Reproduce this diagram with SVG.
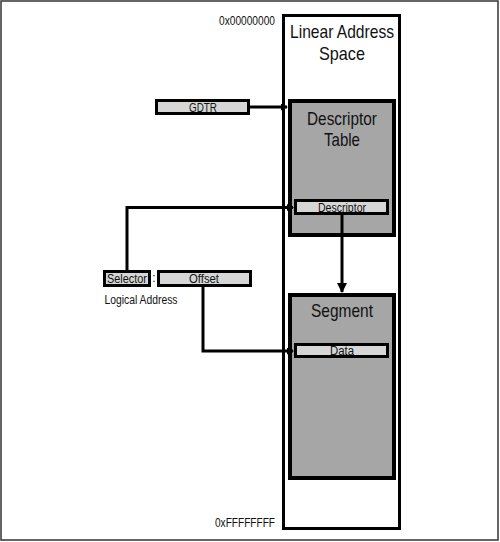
<svg xmlns="http://www.w3.org/2000/svg" width="500" height="542" viewBox="0 0 500 542">
<style>
.t{font-family:"Liberation Sans",Arial,sans-serif;fill:#111;text-anchor:middle}
.s{font-size:12px}
.b{font-size:18.5px}
.dark{fill:#a6a6a6;stroke:#000;stroke-width:4}
.light{fill:#d6d6d6;stroke:#000;stroke-width:3}
.conn{fill:none;stroke:#000;stroke-width:3}
</style>
<defs>
<marker id="ah" markerWidth="7" markerHeight="7" refX="6" refY="3.5" orient="auto" markerUnits="userSpaceOnUse">
<path d="M0,0 L7,3.5 L0,7 Z" fill="#000"/>
</marker>
<marker id="ahd" markerWidth="10" markerHeight="10" refX="9" refY="5" orient="auto" markerUnits="userSpaceOnUse">
<path d="M0,0 L10,5 L0,10 Z" fill="#000"/>
</marker>
</defs>
<rect x="1" y="1" width="497" height="539" fill="#fff" stroke="#333" stroke-width="1.5"/>
<g id="linear-space">
<rect x="283.5" y="15.5" width="116" height="513" fill="#fff" stroke="#000" stroke-width="3"/>
<text class="t b" x="342" y="38" textLength="104" lengthAdjust="spacingAndGlyphs">Linear Address</text>
<text class="t b" x="342" y="60" textLength="46" lengthAdjust="spacingAndGlyphs">Space</text>
</g>
<g id="addr-labels">
<text class="t s" x="247" y="25" textLength="56" lengthAdjust="spacingAndGlyphs">0x00000000</text>
<text class="t s" x="245" y="527" textLength="60" lengthAdjust="spacingAndGlyphs">0xFFFFFFFF</text>
</g>
<g id="descriptor-table">
<rect class="dark" x="290" y="101" width="104" height="134"/>
<text class="t b" x="342" y="125" textLength="70" lengthAdjust="spacingAndGlyphs">Descriptor</text>
<text class="t b" x="342" y="146" textLength="36" lengthAdjust="spacingAndGlyphs">Table</text>
</g>
<g id="descriptor">
<rect class="light" x="295.5" y="200.5" width="92" height="13"/>
<text class="t s" x="342" y="211.5" textLength="48" lengthAdjust="spacingAndGlyphs">Descriptor</text>
</g>
<g id="segment">
<rect class="dark" x="290" y="295" width="104" height="183"/>
<text class="t b" x="342" y="317" textLength="62" lengthAdjust="spacingAndGlyphs">Segment</text>
</g>
<g id="data">
<rect class="light" x="295.5" y="344.5" width="92" height="12"/>
<text class="t s" x="342" y="355" textLength="24" lengthAdjust="spacingAndGlyphs">Data</text>
</g>
<g id="gdtr">
<rect class="light" x="156.5" y="100.5" width="92" height="13"/>
<text class="t s" x="203" y="111.5" textLength="28" lengthAdjust="spacingAndGlyphs">GDTR</text>
</g>
<g id="selector">
<rect class="light" x="104.5" y="271.5" width="45" height="14"/>
<text class="t s" x="127" y="282.5" textLength="40" lengthAdjust="spacingAndGlyphs">Selector</text>
</g>
<g id="offset">
<rect class="light" x="158.5" y="271.5" width="92" height="14"/>
<text class="t s" x="204" y="282.5" textLength="30" lengthAdjust="spacingAndGlyphs">Offset</text>
</g>
<g id="logical-address">
<text class="t s" x="154" y="282">:</text>
<text class="t s" x="141" y="303.5" textLength="73" lengthAdjust="spacingAndGlyphs">Logical Address</text>
</g>
<g id="connectors">
<path class="conn" d="M250,107 H287" marker-end="url(#ah)"/>
<path class="conn" d="M127,271 V207.5 H293" marker-end="url(#ah)"/>
<path class="conn" d="M342,215 V292" marker-end="url(#ahd)"/>
<path class="conn" d="M203,287 V351 H293" marker-end="url(#ah)"/>
</g>
</svg>
